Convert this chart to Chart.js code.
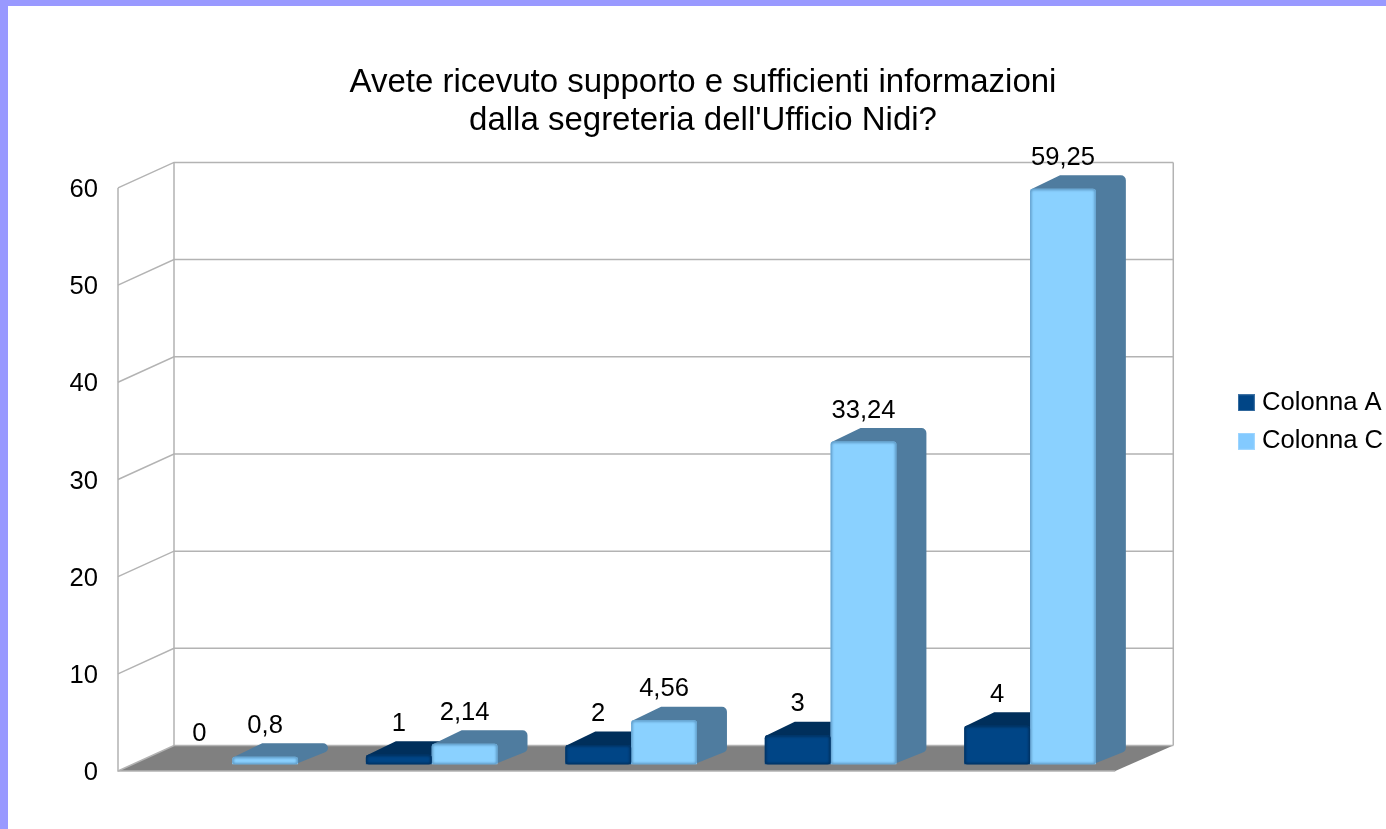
<!DOCTYPE html>
<html>
<head>
<meta charset="utf-8">
<script src="https://cdn.jsdelivr.net/npm/chart.js@4"></script>
<style>
  html, body { margin: 0; height: 100%; overflow: hidden; background: #9999ff; }
  #wrap { position: absolute; left: 8px; top: 6px; width: 1385px; height: 832px; background: #fff; }
</style>
</head>
<body>
<div id="wrap"><canvas id="myChart" width="1385" height="832"></canvas></div>
<script>
const categories = ["a", "b", "c", "d", "e"];
const colonnaA = [0, 1, 2, 3, 4];
const colonnaC = [0.8, 2.14, 4.56, 33.24, 59.25];
const titleLines = ["Avete ricevuto supporto e sufficienti informazioni", "dalla segreteria dell'Ufficio Nidi?"];

const FONT = "'Liberation Sans', Arial, sans-serif";
const WALL = "#b3b3b3";

// fake 3d: walls sit behind the plot, bars a bit inside the floor
const wallDx = 56, wallDy = 25.5;
const barDx = 14.5, barDy = 6.5;
const sideDx = 30, sideDy = 13.5;

let swatch = (color) => {
    let c = document.createElement("canvas");
    c.width = 17;
    c.height = 17;
    let g = c.getContext("2d");
    g.fillStyle = color;
    g.fillRect(0, 0, 17, 17);
    g.strokeStyle = "rgba(255,255,255,0.25)";
    g.strokeRect(0.5, 0.5, 16, 16);
    return c;
};

let drawDepth = (ctx, bar, color) => {
    let l = bar.x - bar.width / 2, r = bar.x + bar.width / 2;
    ctx.fillStyle = color;
    ctx.beginPath();
    ctx.moveTo(l, bar.y + 1);
    ctx.lineTo(l + sideDx, bar.y - sideDy);
    ctx.arcTo(r + sideDx, bar.y - sideDy, r + sideDx, bar.base - sideDy, 5);
    ctx.arcTo(r + sideDx, bar.base - sideDy, r, bar.base, 5);
    ctx.lineTo(r - 1, bar.base - 1);
    ctx.lineTo(r - 1, bar.y + 1);
    ctx.closePath();
    ctx.fill();
};

const walls = {
    id: "walls",
    beforeDatasetsDraw(chart) {
        let ctx = chart.ctx, y = chart.scales.y, a = chart.chartArea;
        let y0 = y.getPixelForValue(0), yTop = y.getPixelForValue(60);
        let backL = a.left + wallDx, backR = a.right + wallDx + 2;

        ctx.save();
        ctx.fillStyle = "#808080";
        ctx.beginPath();
        ctx.moveTo(a.left, y0);
        ctx.lineTo(backL, y0 - wallDy);
        ctx.lineTo(backR, y0 - wallDy);
        ctx.lineTo(a.right, y0);
        ctx.closePath();
        ctx.fill();

        ctx.strokeStyle = WALL;
        ctx.lineWidth = 1.5;
        y.ticks.forEach(t => {
            let py = y.getPixelForValue(t.value);
            ctx.beginPath();
            ctx.moveTo(a.left, py);
            ctx.lineTo(backL, py - wallDy);
            ctx.lineTo(backR, py - wallDy);
            ctx.stroke();
        });
        ctx.beginPath();
        ctx.moveTo(a.left, yTop);
        ctx.lineTo(a.left, y0);
        ctx.lineTo(a.right, y0);
        ctx.moveTo(backL, yTop - wallDy);
        ctx.lineTo(backL, y0 - wallDy);
        ctx.moveTo(backR, yTop - wallDy);
        ctx.lineTo(backR, y0 - wallDy);
        ctx.stroke();
        ctx.restore();

        // bars are drawn shifted into the floor, depth goes under every front face
        ctx.save();
        ctx.translate(barDx, -barDy);
        chart.data.datasets.forEach((ds, n) => {
            chart.getDatasetMeta(n).data.forEach((bar, i) => {
                if (ds.data[i]) drawDepth(ctx, bar, ds.depthColor);
            });
        });
    },
    afterDatasetDraw(chart, args) {
        let ctx = chart.ctx, ds = chart.data.datasets[args.index];
        args.meta.data.forEach((bar, i) => {
            if (!ds.data[i]) return;
            let l = bar.x - bar.width / 2, h = bar.base - bar.y;
            ctx.save();
            ctx.beginPath();
            ctx.roundRect(l, bar.y, bar.width, h, 3);
            ctx.clip();
            ctx.filter = "blur(1.2px)";
            ctx.strokeStyle = ds.edgeColor;
            ctx.lineWidth = 3;
            ctx.beginPath();
            ctx.roundRect(l, bar.y, bar.width, h, 3);
            ctx.stroke();
            ctx.restore();
        });
    },
    afterDatasetsDraw(chart) {
        let ctx = chart.ctx;
        ctx.restore();

        // value labels above the front face
        ctx.save();
        ctx.font = "25.6px " + FONT;
        ctx.fillStyle = "#000";
        ctx.textAlign = "center";
        ctx.textBaseline = "middle";
        chart.data.datasets.forEach((ds, n) => {
            chart.getDatasetMeta(n).data.forEach((bar, i) => {
                let text = String(ds.data[i]).replace(".", ",");
                ctx.fillText(text, bar.x + barDx, bar.y - barDy - 31);
            });
        });
        ctx.restore();
    }
};

const config = {
    type: "bar",
    data: {
        labels: categories,
        datasets: [{
            label: "Colonna A",
            data: colonnaA,
            backgroundColor: "#004586",
            edgeColor: "#00305e",
            depthColor: "#002f5b",
            pointStyle: swatch("#004586")
        }, {
            label: "Colonna C",
            data: colonnaC,
            backgroundColor: "#8ad1ff",
            edgeColor: "#5f9ac6",
            depthColor: "#4f7c9f",
            pointStyle: swatch("#83caff")
        }]
    },
    options: {
        responsive: false,
        animation: false,
        layout: { padding: { left: 5, right: 0, top: 0, bottom: 0 } },
        datasets: {
            bar: {
                categoryPercentage: 0.66,
                barPercentage: 1,
                borderWidth: 0,
                borderRadius: 3
            }
        },
        scales: {
            x: {
                ticks: { display: false },
                grid: { display: false, drawTicks: false },
                border: { display: false },
                afterFit(scale) { scale.height = 67; }
            },
            y: {
                min: 0,
                max: 60,
                ticks: {
                    stepSize: 10,
                    padding: 20,
                    labelOffset: 2,
                    color: "#000",
                    font: { family: FONT, size: 25.6 }
                },
                grid: { display: false, drawTicks: false },
                border: { display: false },
                afterFit(scale) { scale.width = 105; }
            },
            gap: {
                position: "right",
                ticks: { display: false },
                grid: { display: false, drawTicks: false },
                border: { display: false },
                afterFit(scale) { scale.width = 115; }
            }
        },
        plugins: {
            title: {
                display: true,
                text: titleLines,
                color: "#000",
                font: { family: FONT, size: 33, weight: "normal", lineHeight: 1.15 },
                padding: { top: 57.5, bottom: 48.5 }
            },
            legend: {
                position: "right",
                labels: {
                    usePointStyle: true,
                    pointStyleWidth: 6,
                    padding: 13,
                    color: "#000",
                    font: { family: FONT, size: 25.6 }
                }
            },
            tooltip: { enabled: false }
        }
    },
    plugins: [walls]
};

var myChart = new Chart(document.getElementById("myChart"), config);
</script>
</body>
</html>
